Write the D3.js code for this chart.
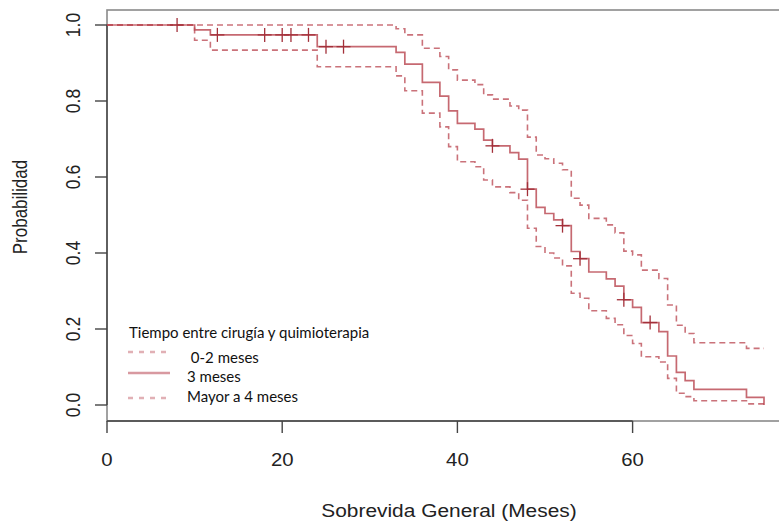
<!DOCTYPE html>
<html>
<head>
    <title>Sobrevida General</title>
    <script src="https://d3js.org/d3.v7.min.js"></script>
    <style>
        body { margin: 0; background: #fff; }
        .axis-text { font-family: "Liberation Sans", Arial, sans-serif; fill: #222; }
        .legend-text { font-family: Lato, "Noto Sans", sans-serif; fill: #111; }
    </style>
</head>
<body>
<script>
    // tiempos de evento (meses) y estimaciones Kaplan-Meier
    const times = [0, 10, 11.8, 24, 33, 34, 36, 38, 39, 40, 42, 43, 44, 46, 47, 48, 49, 50, 51, 52,
        53, 54, 55, 57, 58, 59, 60, 61, 63, 64, 65, 66, 67, 73];
    const surv = [1, 0.987, 0.974, 0.943, 0.928, 0.897, 0.849, 0.813, 0.774, 0.741, 0.726, 0.697, 0.682,
        0.664, 0.647, 0.568, 0.520, 0.504, 0.487, 0.472, 0.404, 0.385, 0.350, 0.332, 0.313, 0.277,
        0.257, 0.217, 0.193, 0.129, 0.086, 0.064, 0.041, 0.020];
    const upper = [1, 1, 1, 1, 0.99, 0.974, 0.939, 0.917, 0.882, 0.855, 0.843, 0.816, 0.805,
        0.787, 0.776, 0.705, 0.658, 0.648, 0.636, 0.619, 0.544, 0.526, 0.491, 0.474, 0.453, 0.405,
        0.395, 0.355, 0.333, 0.263, 0.210, 0.188, 0.164, 0.149];
    const lower = [1, 0.96, 0.934, 0.89, 0.866, 0.827, 0.768, 0.732, 0.68, 0.64, 0.627, 0.592, 0.574,
        0.559, 0.539, 0.465, 0.417, 0.40, 0.387, 0.366, 0.294, 0.281, 0.248, 0.228, 0.211, 0.183,
        0.162, 0.127, 0.113, 0.07, 0.031, 0.022, 0.011, 0.003];
    const lastTime = 75;
    const censored = [8, 12.6, 18, 20, 21, 23, 25, 27, 44, 48, 52, 54, 59, 62];

    const xTicks = [0, 20, 40, 60];
    const yTicks = [0, 0.2, 0.4, 0.6, 0.8, 1.0];
    const legendTitle = "Tiempo entre cirugía y quimioterapia";
    const legendLabels = [" 0-2 meses", "3 meses", "Mayor a 4 meses"];
    const legendDashed = [true, false, true];

    const width = 779, height = 523;
    const lineColor = "#b8434e";
    const stretch = 1.13; // el original esta un poco estirado en horizontal

    const x = d3.scaleLinear().domain([0, 60]).range([107, 632.6]);
    const y = d3.scaleLinear().domain([0, 1]).range([405, 25]);

    const svg = d3.select("body").append("svg")
        .attr("width", width)
        .attr("height", height);

    // caja del grafico
    svg.append("rect")
        .attr("x", 107).attr("y", 10)
        .attr("width", 720).attr("height", 411)
        .attr("fill", "none")
        .attr("stroke", "#8a8a8a")
        .attr("stroke-width", 1.6);

    // ejes
    const xAxis = svg.append("g").attr("transform", "translate(0,421)");
    xAxis.append("line")
        .attr("x1", x(0)).attr("x2", x(60))
        .attr("stroke", "#444").attr("stroke-width", 1.4);
    xAxis.selectAll(".tick").data(xTicks).join("line")
        .attr("x1", d => x(d)).attr("x2", d => x(d))
        .attr("y1", 0).attr("y2", 12)
        .attr("stroke", "#444").attr("stroke-width", 1.4);
    xAxis.selectAll("text").data(xTicks).join("text")
        .attr("class", "axis-text")
        .attr("text-anchor", "middle")
        .attr("font-size", 18)
        .attr("transform", d => `translate(${x(d)},45) scale(${stretch},1)`)
        .text(d => d);

    const yAxis = svg.append("g").attr("transform", "translate(107,0)");
    yAxis.append("line")
        .attr("y1", y(0)).attr("y2", y(1))
        .attr("stroke", "#444").attr("stroke-width", 1.4);
    yAxis.selectAll(".tick").data(yTicks).join("line")
        .attr("y1", d => y(d)).attr("y2", d => y(d))
        .attr("x1", -12).attr("x2", 0)
        .attr("stroke", "#444").attr("stroke-width", 1.4);
    yAxis.selectAll("text").data(yTicks).join("text")
        .attr("class", "axis-text")
        .attr("text-anchor", "middle")
        .attr("font-size", 17.5)
        .attr("transform", d => `translate(-27,${y(d)}) scale(1.2,1) rotate(-90)`)
        .text(d => d.toFixed(1));

    svg.append("text")
        .attr("class", "axis-text")
        .attr("text-anchor", "middle")
        .attr("font-size", 17)
        .attr("transform", `translate(27,207) scale(1.2,1) rotate(-90)`)
        .text("Probabilidad");

    svg.append("text")
        .attr("class", "axis-text")
        .attr("text-anchor", "middle")
        .attr("font-size", 18.5)
        .attr("transform", `translate(449,517) scale(${stretch},1)`)
        .text("Sobrevida General (Meses)");

    // curvas escalonadas
    const step = d3.line()
        .x(d => x(d[0]))
        .y(d => y(d[1]))
        .curve(d3.curveStepAfter);

    const mainPts = times.map((t, i) => [t, surv[i]]).concat([[lastTime, 0]]);
    const upPts = times.map((t, i) => [t, upper[i]]).concat([[lastTime, upper[upper.length - 1]]]);
    const loPts = times.map((t, i) => [t, lower[i]]).concat([[lastTime, lower[lower.length - 1]]]);

    [upPts, loPts].forEach(pts => {
        svg.append("path")
            .attr("d", step(pts))
            .attr("fill", "none")
            .attr("stroke", lineColor)
            .attr("stroke-opacity", 0.75)
            .attr("stroke-width", 1.6)
            .attr("stroke-dasharray", "6,4");
    });

    svg.append("path")
        .attr("d", step(mainPts))
        .attr("fill", "none")
        .attr("stroke", lineColor)
        .attr("stroke-opacity", 0.8)
        .attr("stroke-width", 1.7);

    // marcas de censura
    const survAt = t => {
        let v = surv[0];
        times.forEach((tt, i) => { if (tt <= t) v = surv[i]; });
        return v;
    };
    const cens = svg.append("g");
    censored.forEach(t => {
        const cx = x(t), cy = y(survAt(t));
        cens.append("line")
            .attr("x1", cx).attr("x2", cx).attr("y1", cy - 7).attr("y2", cy + 7)
            .attr("stroke", "#a3303a").attr("stroke-width", 1.3);
        cens.append("line")
            .attr("x1", cx - 7).attr("x2", cx + 7).attr("y1", cy).attr("y2", cy)
            .attr("stroke", "#a3303a").attr("stroke-width", 1.3);
    });

    // leyenda
    const legend = svg.append("g");
    legend.append("text")
        .attr("class", "legend-text")
        .attr("font-size", 15)
        .attr("x", 129).attr("y", 338)
        .text(legendTitle);
    const swatchY = [352, 373, 398];
    const labelY = [363, 382, 402];
    legendLabels.forEach((lab, i) => {
        legend.append("line")
            .attr("x1", 128).attr("x2", 170)
            .attr("y1", swatchY[i]).attr("y2", swatchY[i])
            .attr("stroke", "#d48e96")
            .attr("stroke-width", 2.4)
            .attr("stroke-opacity", legendDashed[i] ? 0.7 : 0.9)
            .attr("stroke-dasharray", legendDashed[i] ? "5,6" : null);
        legend.append("text")
            .attr("class", "legend-text")
            .attr("font-size", 15)
            .attr("x", 187).attr("y", labelY[i])
            .style("white-space", "pre")
            .text(lab);
    });
</script>
</body>
</html>
